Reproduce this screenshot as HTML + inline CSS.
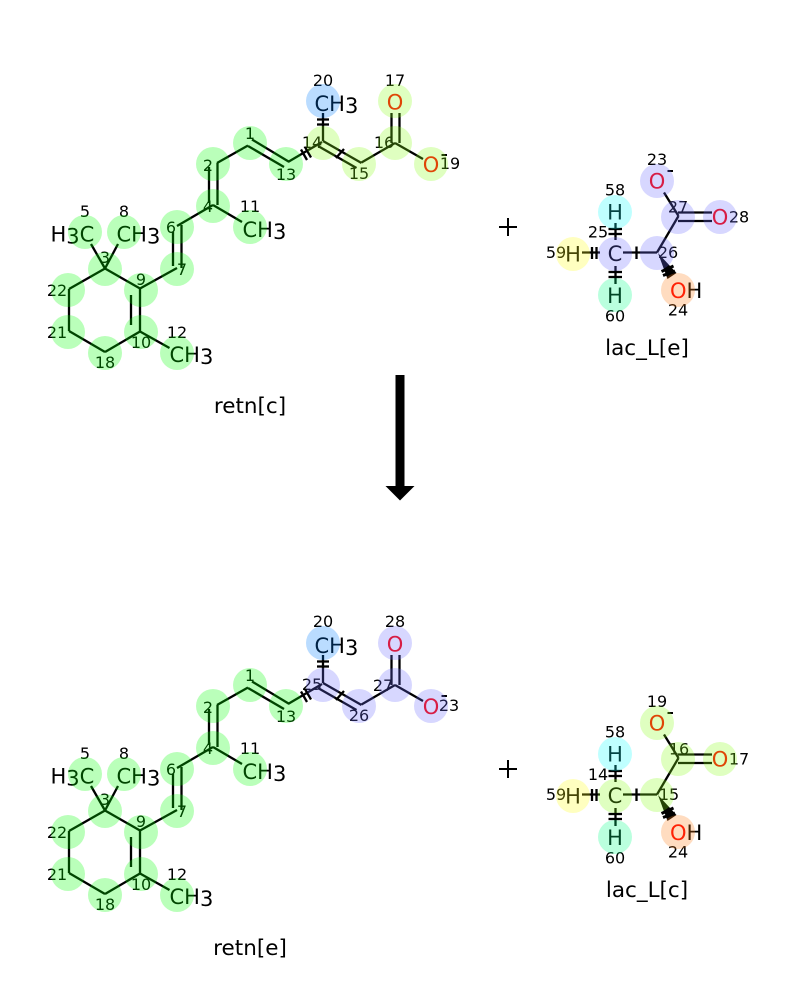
<!DOCTYPE html>
<html><head><meta charset="utf-8"><style>
html,body{margin:0;padding:0;background:#fff;width:800px;height:1000px;overflow:hidden}
svg{display:block}
text{font-family:"DejaVu Sans",sans-serif;fill:#000}
.a{font-size:21px}
.ar{font-size:21px;fill:#f00}
.n{font-size:16px;text-anchor:middle}
.c{font-size:21.5px;text-anchor:middle}
.b line,.b path{stroke:#000;stroke-width:2.3;fill:none}
.g{fill:rgb(0,255,0)}.y{fill:rgb(137,255,22)}.bl{fill:rgb(0,126,255)}.p{fill:rgb(107,107,255)}
.pe{fill:rgb(255,126,22)}.cy{fill:rgb(18,255,255)}.ye{fill:rgb(255,255,22)}.m{fill:rgb(0,255,133)}
.o circle{opacity:.27}
</style></head><body>
<svg width="800" height="1000" viewBox="0 0 800 1000" xmlns="http://www.w3.org/2000/svg">
<defs>
<g id="rb" class="b">
<line x1="105" y1="268.5" x2="69" y2="289"/><line x1="69" y1="289" x2="69" y2="331"/><line x1="69" y1="331" x2="105" y2="352"/><line x1="105" y1="352" x2="140" y2="331.5"/><line x1="140" y1="331.5" x2="140" y2="288.5"/><line x1="140" y1="288.5" x2="105" y2="268.5"/>
<line x1="131" y1="295" x2="131" y2="325"/>
<line x1="105" y1="268.5" x2="91" y2="244"/><line x1="105" y1="268.5" x2="118" y2="244"/>
<line x1="140" y1="331.5" x2="169.5" y2="348"/>
<line x1="140" y1="288.5" x2="177" y2="268"/>
<line x1="173" y1="232" x2="173" y2="266"/><line x1="181.5" y1="225" x2="181.5" y2="268"/>
<line x1="177" y1="226" x2="213" y2="205"/>
<line x1="213" y1="205" x2="242" y2="222"/>
<line x1="209" y1="167" x2="209" y2="203"/><line x1="217.5" y1="163" x2="217.5" y2="205"/>
<line x1="217" y1="163" x2="248" y2="145.5"/>
<line x1="252" y1="139.5" x2="288.5" y2="161.5"/><line x1="248" y1="146" x2="284" y2="167"/>
<line x1="288" y1="162" x2="322" y2="142"/>
<line x1="323" y1="113" x2="323" y2="141"/>
<line x1="323" y1="141" x2="361.5" y2="163"/><line x1="318" y1="146" x2="356.5" y2="168"/>
<line x1="361.5" y1="162.5" x2="395" y2="143"/>
<line x1="391.5" y1="113" x2="391.5" y2="143"/><line x1="399.5" y1="113" x2="399.5" y2="143"/>
<line x1="395" y1="143" x2="423" y2="159"/>
<line x1="317" y1="119.5" x2="329" y2="119.5"/><line x1="317" y1="124.5" x2="329" y2="124.5"/>
<line x1="301" y1="149.5" x2="307" y2="160"/><line x1="305" y1="147" x2="311" y2="157.5"/>
<line x1="336" y1="158" x2="344" y2="149"/>
</g>
<g id="lb" class="b">
<line x1="615.5" y1="223" x2="615.5" y2="240"/><line x1="608.5" y1="229" x2="622" y2="229"/><line x1="608.5" y1="234" x2="622" y2="234"/>
<line x1="615.5" y1="266" x2="615.5" y2="284"/><line x1="608.5" y1="272" x2="622" y2="272"/><line x1="608.5" y1="277" x2="622" y2="277"/>
<line x1="582" y1="252.5" x2="600" y2="252.5"/><line x1="592" y1="247" x2="592" y2="259"/><line x1="596.5" y1="247" x2="596.5" y2="259"/>
<line x1="623" y1="252.5" x2="657" y2="252.5"/><line x1="636.5" y1="246.5" x2="636.5" y2="259"/>
<line x1="657" y1="252.5" x2="678.5" y2="216"/>
<line x1="678" y1="212.5" x2="712" y2="212.5"/><line x1="678" y1="221" x2="712" y2="221"/>
<line x1="678.5" y1="216" x2="664" y2="192.5"/>
<path d="M658 253 L667.5 279 L676.5 273 Z" style="fill:#000;stroke:none"/>
<line x1="661.5" y1="271.5" x2="673.5" y2="266" style="stroke-width:3"/><line x1="663" y1="275.5" x2="675" y2="271" style="stroke-width:3"/>
</g>
</defs>

<!-- top retn -->
<use href="#rb"/>
<text class="a" x="50.5" y="241.5">H<tspan dy="2">3</tspan><tspan dy="-2">C</tspan></text>
<text class="a" x="116.5" y="241.5">CH<tspan dy="2">3</tspan></text>
<text class="a" x="242.5" y="237">CH<tspan dy="2">3</tspan></text>
<text class="a" x="169.5" y="362">CH<tspan dy="2">3</tspan></text>
<text class="a" x="314.5" y="111">CH<tspan dy="2">3</tspan></text>
<text class="ar" x="395" y="109.5" text-anchor="middle">O</text>
<text class="ar" x="431" y="172" text-anchor="middle">O</text>
<line x1="441.5" y1="155" x2="447" y2="155" stroke="#000" stroke-width="2"/>
<text class="n" x="250" y="139">1</text><text class="n" x="208" y="171">2</text><text class="n" x="105" y="263">3</text><text class="n" x="208" y="212">4</text><text class="n" x="85" y="217">5</text><text class="n" x="171" y="233">6</text><text class="n" x="182" y="275">7</text><text class="n" x="124" y="217">8</text><text class="n" x="141" y="285">9</text><text class="n" x="141" y="348">10</text><text class="n" x="250" y="212">11</text><text class="n" x="177" y="338">12</text><text class="n" x="286" y="180">13</text><text class="n" x="312" y="148">14</text><text class="n" x="359" y="179">15</text><text class="n" x="384" y="148">16</text><text class="n" x="395" y="86">17</text><text class="n" x="105" y="368">18</text><text class="n" x="450" y="169">19</text><text class="n" x="323" y="86">20</text><text class="n" x="57" y="338">21</text><text class="n" x="57" y="296">22</text>
<text class="c" x="250" y="413">retn[c]</text>

<!-- top lac -->
<use href="#lb"/>
<text class="ar" x="657" y="188.5" text-anchor="middle">O</text>
<line x1="667.5" y1="171" x2="673" y2="171" stroke="#000" stroke-width="2"/>
<text class="ar" x="720" y="224.5" text-anchor="middle">O</text>
<text class="a" x="615" y="219.5" text-anchor="middle">H</text>
<text class="a" x="615" y="261" text-anchor="middle">C</text>
<text class="a" x="573" y="261.5" text-anchor="middle">H</text>
<text class="a" x="615" y="303" text-anchor="middle">H</text>
<text class="ar" x="670" y="298">O</text><text class="a" x="686.5" y="298">H</text>
<text class="n" x="657" y="165">23</text><text class="n" x="678" y="212.5">27</text><text class="n" x="739" y="222.5">28</text><text class="n" x="615" y="195.5">58</text><text class="n" x="598" y="237.5">25</text><text class="n" x="556" y="258">59</text><text class="n" x="615" y="321.5">60</text><text class="n" x="668" y="258">26</text><text class="n" x="678" y="315.5">24</text>
<text class="c" x="647" y="355">lac_L[e]</text>

<!-- arrow and plus -->
<rect x="395.5" y="375" width="9" height="112" fill="#000"/>
<path d="M385.5 486 L414.5 486 L400 500.5 Z" fill="#000"/>
<path d="M499 227H517M508 218V236M499 769H517M508 760V778" stroke="#000" stroke-width="2" fill="none"/>

<!-- bottom retn -->
<use href="#rb" y="542"/>
<text class="a" x="50.5" y="783.5">H<tspan dy="2">3</tspan><tspan dy="-2">C</tspan></text>
<text class="a" x="116.5" y="783.5">CH<tspan dy="2">3</tspan></text>
<text class="a" x="242.5" y="779">CH<tspan dy="2">3</tspan></text>
<text class="a" x="169.5" y="904">CH<tspan dy="2">3</tspan></text>
<text class="a" x="314.5" y="653">CH<tspan dy="2">3</tspan></text>
<text class="ar" x="395" y="651.5" text-anchor="middle">O</text>
<text class="ar" x="431" y="714" text-anchor="middle">O</text>
<line x1="441.5" y1="696" x2="447" y2="696" stroke="#000" stroke-width="2"/>
<text class="n" x="250" y="681">1</text><text class="n" x="208" y="713">2</text><text class="n" x="105" y="805">3</text><text class="n" x="208" y="754">4</text><text class="n" x="85" y="759">5</text><text class="n" x="171" y="775">6</text><text class="n" x="182" y="817">7</text><text class="n" x="124" y="759">8</text><text class="n" x="141" y="827">9</text><text class="n" x="141" y="890">10</text><text class="n" x="250" y="754">11</text><text class="n" x="177" y="880">12</text><text class="n" x="286" y="722">13</text><text class="n" x="105" y="910">18</text><text class="n" x="323" y="627">20</text><text class="n" x="57" y="880">21</text><text class="n" x="57" y="838">22</text><text class="n" x="449" y="711">23</text><text class="n" x="312" y="690">25</text><text class="n" x="359" y="721">26</text><text class="n" x="383" y="691">27</text><text class="n" x="395" y="627">28</text>
<text class="c" x="250" y="955">retn[e]</text>

<!-- bottom lac -->
<use href="#lb" y="542"/>
<text class="ar" x="657" y="730.5" text-anchor="middle">O</text>
<line x1="667.5" y1="713" x2="673" y2="713" stroke="#000" stroke-width="2"/>
<text class="ar" x="720" y="766.5" text-anchor="middle">O</text>
<text class="a" x="615" y="761.5" text-anchor="middle">H</text>
<text class="a" x="615" y="803" text-anchor="middle">C</text>
<text class="a" x="573" y="803.5" text-anchor="middle">H</text>
<text class="a" x="615" y="845" text-anchor="middle">H</text>
<text class="ar" x="670" y="840">O</text><text class="a" x="686.5" y="840">H</text>
<text class="n" x="657" y="707">19</text><text class="n" x="679" y="754.5">16</text><text class="n" x="739" y="764.5">17</text><text class="n" x="615" y="737.5">58</text><text class="n" x="598" y="780">14</text><text class="n" x="556" y="800">59</text><text class="n" x="615" y="863.5">60</text><text class="n" x="669" y="800">15</text><text class="n" x="678" y="857.5">24</text>
<text class="c" x="647" y="897">lac_L[c]</text>

<!-- highlights on top -->
<g class="o">
<g class="g"><circle cx="250" cy="143" r="17"/><circle cx="213" cy="164" r="17"/><circle cx="105" cy="269" r="17"/><circle cx="213" cy="206" r="17"/><circle cx="85" cy="232" r="17"/><circle cx="177" cy="227" r="17"/><circle cx="177" cy="269" r="17"/><circle cx="124" cy="232" r="17"/><circle cx="141" cy="290" r="17"/><circle cx="141" cy="332" r="17"/><circle cx="250" cy="227" r="17"/><circle cx="177" cy="353" r="17"/><circle cx="286" cy="164" r="17"/><circle cx="105" cy="353" r="17"/><circle cx="68" cy="332" r="17"/><circle cx="68" cy="290" r="17"/></g>
<g class="y"><circle cx="323" cy="143" r="17"/><circle cx="359" cy="164" r="17"/><circle cx="395" cy="143" r="17"/><circle cx="395" cy="101" r="17"/><circle cx="431" cy="164" r="17"/></g>
<circle class="bl" cx="323" cy="101" r="17"/>
<g class="p"><circle cx="615" cy="254" r="17"/><circle cx="657" cy="253" r="17"/><circle cx="678" cy="217" r="17"/><circle cx="720" cy="217" r="17"/><circle cx="657" cy="181" r="17"/></g>
<circle class="cy" cx="615" cy="212" r="17"/><circle class="ye" cx="573" cy="254" r="17"/><circle class="m" cx="615" cy="295" r="17"/><circle class="pe" cx="678" cy="290" r="17"/>

<g class="g"><circle cx="250" cy="685" r="17"/><circle cx="213" cy="706" r="17"/><circle cx="105" cy="811" r="17"/><circle cx="213" cy="748" r="17"/><circle cx="85" cy="774" r="17"/><circle cx="177" cy="769" r="17"/><circle cx="177" cy="811" r="17"/><circle cx="124" cy="774" r="17"/><circle cx="141" cy="832" r="17"/><circle cx="141" cy="874" r="17"/><circle cx="250" cy="769" r="17"/><circle cx="177" cy="895" r="17"/><circle cx="286" cy="706" r="17"/><circle cx="105" cy="895" r="17"/><circle cx="68" cy="874" r="17"/><circle cx="68" cy="832" r="17"/></g>
<g class="p"><circle cx="323" cy="685" r="17"/><circle cx="359" cy="706" r="17"/><circle cx="395" cy="685" r="17"/><circle cx="395" cy="643" r="17"/><circle cx="431" cy="706" r="17"/></g>
<circle class="bl" cx="323" cy="643" r="17"/>
<g class="y"><circle cx="615" cy="796" r="17"/><circle cx="657" cy="795" r="17"/><circle cx="678" cy="759" r="17"/><circle cx="720" cy="759" r="17"/><circle cx="657" cy="723" r="17"/></g>
<circle class="cy" cx="615" cy="754" r="17"/><circle class="ye" cx="573" cy="796" r="17"/><circle class="m" cx="615" cy="837" r="17"/><circle class="pe" cx="678" cy="832" r="17"/>
</g>
</svg>
</body></html>
